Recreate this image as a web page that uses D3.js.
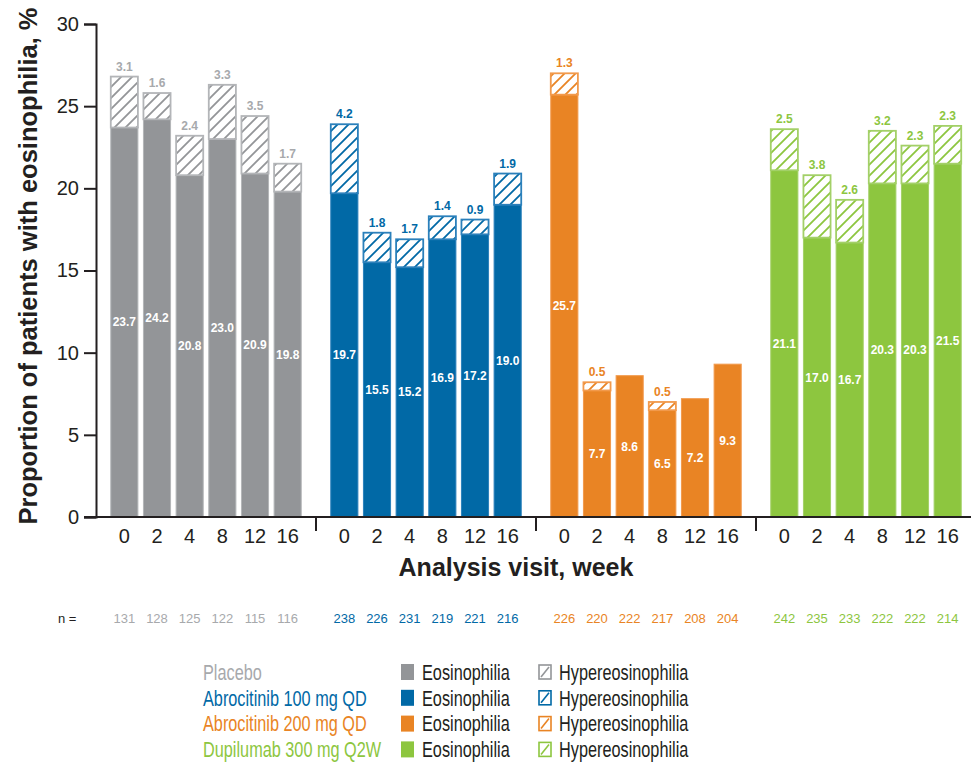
<!DOCTYPE html>
<html>
<head>
<meta charset="utf-8">
<script src="https://cdn.jsdelivr.net/npm/d3@7"></script>
<style>
  body { margin: 0; background: #fff; }
  svg { display: block; font-family: "Liberation Sans", Arial, sans-serif; }
</style>
</head>
<body>
<svg id="chart" width="971" height="764"></svg>
<script>
// data
var treatments = ['Placebo', 'Abrocitinib 100 mg QD', 'Abrocitinib 200 mg QD', 'Dupilumab 300 mg Q2W'];
var weeks = ['0', '2', '4', '8', '12', '16'];
var eosPlacebo = [23.7, 24.2, 20.8, 23.0, 20.9, 19.8];
var hyperPlacebo = [3.1, 1.6, 2.4, 3.3, 3.5, 1.7];
var eosAbro100 = [19.7, 15.5, 15.2, 16.9, 17.2, 19.0];
var hyperAbro100 = [4.2, 1.8, 1.7, 1.4, 0.9, 1.9];
var eosAbro200 = [25.7, 7.7, 8.6, 6.5, 7.2, 9.3];
var hyperAbro200 = [1.3, 0.5, 0, 0.5, 0, 0];
var eosDupi = [21.1, 17.0, 16.7, 20.3, 20.3, 21.5];
var hyperDupi = [2.5, 3.8, 2.6, 3.2, 2.3, 2.3];
var nPlacebo = [131, 128, 125, 122, 115, 116];
var nAbro100 = [238, 226, 231, 219, 221, 216];
var nAbro200 = [226, 220, 222, 217, 208, 204];
var nDupi = [242, 235, 233, 222, 222, 214];
var yTicks = [0, 5, 10, 15, 20, 25, 30];

var eosAll = [eosPlacebo, eosAbro100, eosAbro200, eosDupi];
var hyperAll = [hyperPlacebo, hyperAbro100, hyperAbro200, hyperDupi];
var nAll = [nPlacebo, nAbro100, nAbro200, nDupi];

var colors = ['#939598', '#0169a6', '#e98424', '#8dc63f'];
var edgeColors = ['#b3b5b8', '#2b80bb', '#f29a4c', '#a3d068'];
var labelColors = ['#a7a9ac', '#0169a6', '#e98424', '#8dc63f'];
var ink = '#231f20';

var svg = d3.select('#chart');

// scales
var y = d3.scaleLinear().domain([0, 30]).range([517, 24]);
var xGroup = d3.scaleBand().domain(treatments).range([96, 976]);
var xWeek = d3.scaleBand().domain(weeks).range([12, 208]).paddingInner(0.17).paddingOuter(0.085);

// hatch patterns
var defs = svg.append('defs');
var hs = 11;
colors.forEach(function(c, i) {
	var p = defs.append('pattern')
		.attr('id', 'hatch' + i)
		.attr('patternUnits', 'userSpaceOnUse')
		.attr('width', hs).attr('height', hs);
	p.append('rect').attr('width', hs).attr('height', hs).attr('fill', '#fff');
	p.append('path')
		.attr('d', 'M-2,2 L2,-2 M0,' + hs + ' L' + hs + ',0 M' + (hs - 2) + ',' + (hs + 2) + ' L' + (hs + 2) + ',' + (hs - 2))
		.attr('stroke', c).attr('stroke-width', 1.8);
});

// bars
var rows = [];
treatments.forEach(function(t, gi) {
	weeks.forEach(function(w, wi) {
		rows.push({ g: gi, t: t, w: w, eos: eosAll[gi][wi], hyper: hyperAll[gi][wi], n: nAll[gi][wi] });
	});
});

var bw = xWeek.bandwidth();
function bx(d) { return xGroup(d.t) + xWeek(d.w); }

var bars = svg.append('g').selectAll('g').data(rows).enter().append('g');

bars.append('rect')
	.attr('x', bx)
	.attr('y', function(d) { return y(d.eos); })
	.attr('width', bw)
	.attr('height', function(d) { return y(0) - y(d.eos); })
	.attr('fill', function(d) { return colors[d.g]; })
	.attr('stroke', function(d) { return edgeColors[d.g]; })
	.attr('stroke-width', 1);

bars.filter(function(d) { return d.hyper > 0; })
	.append('rect')
	.attr('x', bx)
	.attr('y', function(d) { return y(d.eos + d.hyper); })
	.attr('width', bw)
	.attr('height', function(d) { return y(d.eos) - y(d.eos + d.hyper); })
	.attr('fill', function(d) { return 'url(#hatch' + d.g + ')'; })
	.attr('stroke', function(d) { return edgeColors[d.g]; })
	.attr('stroke-width', 1.8);

// value labels
bars.append('text')
	.attr('x', function(d) { return bx(d) + bw / 2; })
	.attr('y', function(d) { return y(d.eos / 2); })
	.attr('dy', '0.35em')
	.attr('text-anchor', 'middle')
	.attr('fill', '#fff')
	.attr('font-weight', 'bold')
	.attr('font-size', 12)
	.text(function(d) { return d.eos.toFixed(1); });

bars.filter(function(d) { return d.hyper > 0; })
	.append('text')
	.attr('x', function(d) { return bx(d) + bw / 2; })
	.attr('y', function(d) { return y(d.eos + d.hyper) - 6; })
	.attr('text-anchor', 'middle')
	.attr('fill', function(d) { return labelColors[d.g]; })
	.attr('font-weight', 'bold')
	.attr('font-size', 12)
	.text(function(d) { return d.hyper.toFixed(1); });

// y axis
var yAxis = svg.append('g')
	.attr('transform', 'translate(96,0)')
	.call(d3.axisLeft(y).tickValues(yTicks).tickSize(12).tickPadding(5));
yAxis.select('.domain').attr('stroke', ink).attr('stroke-width', 2);
yAxis.selectAll('.tick line').attr('stroke', ink).attr('stroke-width', 2);
yAxis.selectAll('.tick text')
	.attr('font-size', 20)
	.attr('fill', ink)
	.attr('font-family', '"Liberation Sans", Arial, sans-serif');

// x axis line and group separators
svg.append('line')
	.attr('x1', 84).attr('x2', 971)
	.attr('y1', y(0)).attr('y2', y(0))
	.attr('stroke', ink).attr('stroke-width', 2);

svg.append('g').selectAll('line')
	.data(treatments.slice(1))
	.enter().append('line')
	.attr('x1', function(t) { return xGroup(t); })
	.attr('x2', function(t) { return xGroup(t); })
	.attr('y1', y(0)).attr('y2', y(0) + 14)
	.attr('stroke', ink).attr('stroke-width', 2);

// week labels
svg.append('g').selectAll('text')
	.data(rows).enter().append('text')
	.attr('x', function(d) { return bx(d) + bw / 2; })
	.attr('y', 543)
	.attr('text-anchor', 'middle')
	.attr('font-size', 20)
	.attr('fill', ink)
	.text(function(d) { return d.w; });

// n row
svg.append('text')
	.attr('x', 58).attr('y', 623)
	.attr('font-size', 13).attr('fill', ink)
	.text('n =');
svg.append('g').selectAll('text')
	.data(rows).enter().append('text')
	.attr('x', function(d) { return bx(d) + bw / 2; })
	.attr('y', 623)
	.attr('text-anchor', 'middle')
	.attr('font-size', 13)
	.attr('fill', function(d) { return labelColors[d.g]; })
	.text(function(d) { return d.n; });

// axis titles
svg.append('text')
	.attr('x', 516).attr('y', 576)
	.attr('text-anchor', 'middle')
	.attr('font-size', 25).attr('font-weight', 'bold')
	.attr('fill', ink)
	.text('Analysis visit, week');

svg.append('text')
	.attr('transform', 'translate(37,266) rotate(-90)')
	.attr('text-anchor', 'middle')
	.attr('font-size', 25.5).attr('font-weight', 'bold')
	.attr('fill', ink)
	.text('Proportion of patients with eosinophilia, %');

// legend (condensed lettering)
var legend = svg.append('g').attr('font-size', 22);
var rowsL = legend.selectAll('g').data(treatments).enter().append('g')
	.attr('transform', function(t, i) { return 'translate(0,' + (672 + i * 25.8) + ')'; });

rowsL.append('text')
	.attr('transform', 'translate(203,0) scale(0.74,1)')
	.attr('dy', '0.35em')
	.attr('fill', function(t, i) { return labelColors[i]; })
	.text(function(t) { return t; });

rowsL.append('rect')
	.attr('x', 401).attr('y', -8)
	.attr('width', 13).attr('height', 16)
	.attr('fill', function(t, i) { return colors[i]; });
rowsL.append('text')
	.attr('transform', 'translate(422,0) scale(0.74,1)')
	.attr('dy', '0.35em')
	.attr('fill', ink)
	.text('Eosinophilia');

rowsL.append('rect')
	.attr('x', 539).attr('y', -7)
	.attr('width', 12).attr('height', 14)
	.attr('fill', '#fff')
	.attr('stroke', function(t, i) { return colors[i]; })
	.attr('stroke-width', 1.6);
rowsL.append('line')
	.attr('x1', 541).attr('y1', 5).attr('x2', 549).attr('y2', -5)
	.attr('stroke', function(t, i) { return colors[i]; })
	.attr('stroke-width', 1.6);
rowsL.append('text')
	.attr('transform', 'translate(559,0) scale(0.74,1)')
	.attr('dy', '0.35em')
	.attr('fill', ink)
	.text('Hypereosinophilia');
</script>
</body>
</html>
